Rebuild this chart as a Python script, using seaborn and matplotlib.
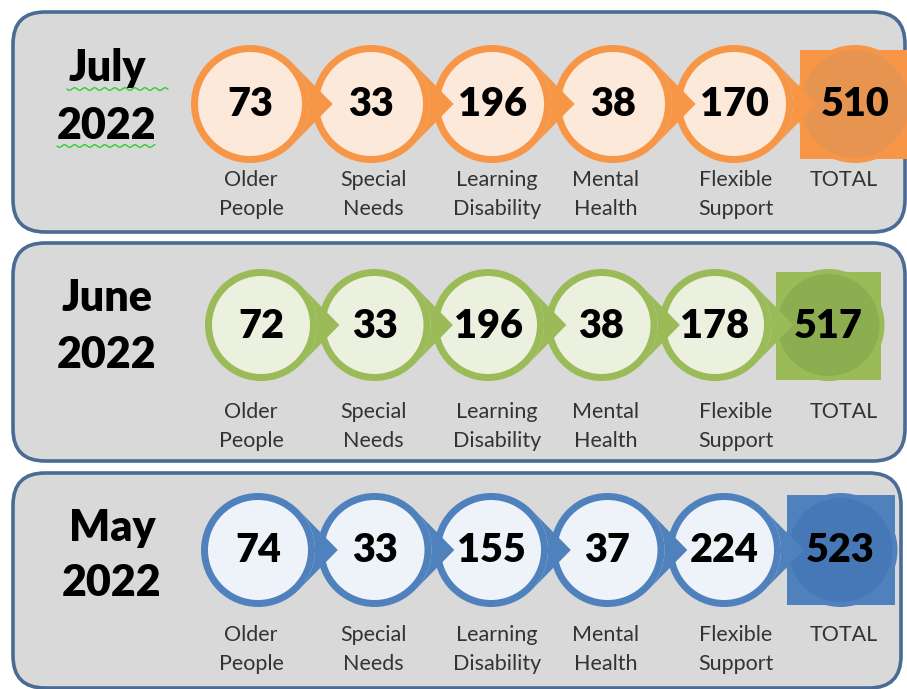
import numpy as np
import seaborn as sns
import matplotlib.pyplot as plt
from matplotlib.patches import Circle, Rectangle, FancyBboxPatch, Polygon

# data
months = ["July\n2022", "June\n2022", "May\n2022"]
categories = ["Older\nPeople", "Special\nNeeds", "Learning\nDisability",
              "Mental\nHealth", "Flexible\nSupport", "TOTAL"]
july_values = [73, 33, 196, 38, 170, 510]
june_values = [72, 33, 196, 38, 178, 517]
may_values = [74, 33, 155, 37, 224, 523]

sns.set_theme(style="white")
plt.rcParams["font.family"] = ["Lato", "DejaVu Sans"]

# colours: ring, inner fill, total square, total inner circle
orange = ["#f79646", "#fde9d9", "#f79646", "#e6944f"]
green = ["#9bbb59", "#ebf1de", "#9bbb59", "#8cae50"]
blue = ["#4f81bd", "#eef2f9", "#4f81bd", "#4677b7"]

# layout (pixels)
panels = [
    dict(values=july_values, colors=orange, top=12, bottom=232, right=905,
         cx=250, dx=121, cy=104, r=59, mx=107, my=(68, 126), ly=178, sq=(800, 50, 107, 109)),
    dict(values=june_values, colors=green, top=243, bottom=461, right=905,
         cx=261, dx=113.5, cy=325, r=56, mx=107, my=(298, 355), ly=410, sq=(776, 272, 105, 108)),
    dict(values=may_values, colors=blue, top=473, bottom=688, right=901,
         cx=258, dx=116.5, cy=550, r=57, mx=112, my=(528, 583), ly=633, sq=(787, 495, 108, 110)),
]
label_x = [251, 373, 497, 606, 736, 844]

fig = plt.figure(figsize=(9.07, 6.89), dpi=100)
ax = fig.add_axes([0, 0, 1, 1])
ax.set_xlim(0, 907)
ax.set_ylim(689, 0)
ax.axis("off")


def wedge(x, y, r, d):
    # pointed tip outside a circle, bounded by the circle's arc
    th = np.arccos(r / d)
    arc = np.linspace(th, -th, 30)
    pts = [(x + d, y)]
    pts += [(x + r * np.cos(a), y + r * np.sin(a)) for a in arc]
    return Polygon(pts, closed=True)


for month, p in zip(months, panels):
    vals = p["values"]
    ring, inner, sqc, totc = p["colors"]
    ax.add_patch(FancyBboxPatch((13, p["top"]), p["right"] - 13, p["bottom"] - p["top"],
                                boxstyle="round,pad=0,rounding_size=32",
                                fc="#d9d9d9", ec="#4a6b94", lw=2.6, zorder=1))
    xs = p["cx"] + p["dx"] * np.arange(len(vals))
    cy, r = p["cy"], p["r"]
    for x in xs:
        ax.add_patch(Circle((x, cy), r, fc=ring, ec="none", zorder=2))
    for x in xs[:-1]:
        ax.add_patch(Circle((x, cy), r - 7, fc=inner, ec="none", zorder=3))
    # total: square with a darker disc on it
    sx, sy, sw, sh = p["sq"]
    ax.add_patch(Rectangle((sx, sy), sw, sh, fc=sqc, ec="none", zorder=3))
    ax.add_patch(Circle((xs[-1], cy), r - 5, fc=totc, ec="none", zorder=4))
    for x in xs[:-1]:
        w = wedge(x, cy, r, 1.4 * r)
        w.set(fc=ring, ec="none", zorder=5)
        ax.add_patch(w)
    for x, v in zip(xs, vals):
        ax.text(x, cy + 1, str(v), ha="center", va="center", fontsize=28.5,
                fontweight="heavy", color="black", zorder=6)
    for x, lab in zip(label_x, categories):
        ax.text(x, p["ly"] - 8, lab, ha="center", va="top", fontsize=15.5,
                color="#333333", linespacing=1.55, zorder=6)
    m, yr = month.split("\n")
    ax.text(p["mx"], p["my"][0], m, ha="center", va="center", fontsize=31,
            fontweight="heavy", color="black", zorder=6)
    ax.text(p["mx"], p["my"][1], yr, ha="center", va="center", fontsize=31,
            fontweight="heavy", color="black", zorder=6)

# spell-check squiggles under July 2022
for x0, x1, y in [(67, 168, 89), (57, 155, 146)]:
    wx = np.linspace(x0, x1, 200)
    ax.plot(wx, y + 1.3 * np.sin((wx - x0) / 1.6), color="#33cc33", lw=1, zorder=6)

fig.savefig("out.png", dpi=100)
